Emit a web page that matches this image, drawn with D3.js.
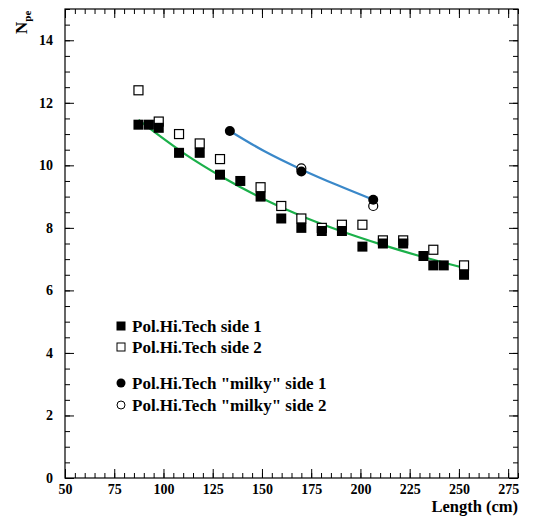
<!DOCTYPE html>
<html>
<head>
<meta charset="utf-8">
<script src="https://cdn.jsdelivr.net/npm/d3@7"></script>
<style>
  body { margin: 0; background: #fff; }
  #chart text { font-family: "Liberation Serif", "Times New Roman", "DejaVu Serif", serif; font-weight: 700; }
</style>
</head>
<body>
<svg id="chart" width="541" height="517"></svg>
<script>
/* data */
const side1_x = [87.3, 92.6, 97.6, 107.9, 118.4, 128.7, 139.0, 149.3, 159.8, 170.0, 180.4, 190.6, 201.0, 211.4, 221.7, 232.0, 237.0, 242.3, 252.6]
const side1_y = [11.3, 11.3, 11.2, 10.4, 10.4, 9.7, 9.5, 9.0, 8.3, 8.0, 7.9, 7.9, 7.4, 7.5, 7.5, 7.1, 6.8, 6.8, 6.5]

const side2_x = [87.3, 97.6, 107.9, 118.4, 128.7, 149.3, 159.8, 170.0, 180.4, 190.6, 201.0, 211.4, 221.7, 237.0, 252.6]
const side2_y = [12.4, 11.4, 11.0, 10.7, 10.2, 9.3, 8.7, 8.3, 8.0, 8.1, 8.1, 7.6, 7.6, 7.3, 6.8]

const milky1_x = [133.7, 170.0, 206.5]
const milky1_y = [11.1, 9.8, 8.9]
const milky2_x = [170.0, 206.5]
const milky2_y = [9.9, 8.7]

/* fit curves, points */
const fit_green_x = [87.3, 110, 130, 150, 170, 190, 210, 230, 252.6]
const fit_green_y = [11.45, 10.4, 9.62, 8.95, 8.38, 7.9, 7.48, 7.1, 6.72]
const fit_blue_x = [133.7, 151.3, 170, 188.5, 206.5]
const fit_blue_y = [11.1, 10.45, 9.87, 9.36, 8.9]

const x_ticks = [50, 75, 100, 125, 150, 175, 200, 225, 250, 275]
const y_ticks = [0, 2, 4, 6, 8, 10, 12, 14]

const legend_labels = ['Pol.Hi.Tech side 1', 'Pol.Hi.Tech side 2', 'Pol.Hi.Tech "milky" side 1', 'Pol.Hi.Tech "milky" side 2']

const svg = d3.select('#chart')
const m_left = 65, m_right = 518, m_top = 9, m_bottom = 478

const x = d3.scaleLinear().domain([50, 280]).range([m_left, m_right])
const y = d3.scaleLinear().domain([0, 15]).range([m_bottom, m_top])

const x_minor = d3.range(50, 281, 5)
const y_minor = d3.range(0, 15.01, 0.5)

/* axes on all four sides, ticks inward */
const draw_axis = (axis, tx, ty) => {
    const g = svg.append('g').attr('transform', `translate(${tx},${ty})`).call(axis)
    g.select('.domain').remove()
    g.selectAll('line').attr('stroke', '#000').attr('stroke-width', 1)
    g.selectAll('text').attr('font-size', 14).attr('fill', '#000')
    return g
}

draw_axis(d3.axisBottom(x).tickValues(x_minor).tickSize(-5).tickFormat(''), 0, m_bottom)
draw_axis(d3.axisBottom(x).tickValues(x_ticks).tickSize(-9).tickPadding(6).tickFormat(d3.format('d')), 0, m_bottom)
draw_axis(d3.axisTop(x).tickValues(x_minor).tickSize(-5).tickFormat(''), 0, m_top)
draw_axis(d3.axisTop(x).tickValues(x_ticks).tickSize(-9).tickFormat(''), 0, m_top)

draw_axis(d3.axisLeft(y).tickValues(y_minor).tickSize(-5).tickFormat(''), m_left, 0)
draw_axis(d3.axisLeft(y).tickValues(y_ticks).tickSize(-9).tickPadding(12).tickFormat(d3.format('d')), m_left, 0)
draw_axis(d3.axisRight(y).tickValues(y_minor).tickSize(-5).tickFormat(''), m_right, 0)
draw_axis(d3.axisRight(y).tickValues(y_ticks).tickSize(-9).tickFormat(''), m_right, 0)

svg.append('rect')
    .attr('x', m_left).attr('y', m_top)
    .attr('width', m_right - m_left).attr('height', m_bottom - m_top)
    .attr('fill', 'none').attr('stroke', '#000').attr('stroke-width', 1.2)

/* axis titles */
svg.append('text')
    .attr('x', m_right).attr('y', 512)
    .attr('text-anchor', 'end').attr('font-size', 16.5)
    .text('Length (cm)')

const ytitle = svg.append('text')
    .attr('transform', 'translate(27,34) rotate(-90)')
    .attr('font-size', 17)
ytitle.append('tspan').text('N')
ytitle.append('tspan').attr('font-size', 11).attr('dy', 4).text('pe')

/* fit lines */
const line = d3.line().x(d => x(d[0])).y(d => y(d[1])).curve(d3.curveCatmullRom)

svg.append('path')
    .datum(d3.zip(fit_green_x, fit_green_y))
    .attr('d', line)
    .attr('fill', 'none').attr('stroke', '#1bb04a').attr('stroke-width', 2.2)

svg.append('path')
    .datum(d3.zip(fit_blue_x, fit_blue_y))
    .attr('d', line)
    .attr('fill', 'none').attr('stroke', '#3a88c9').attr('stroke-width', 2.2)

/* markers */
const sq = 10, rr = 5

svg.selectAll('.side2')
    .data(d3.zip(side2_x, side2_y))
    .join('rect')
    .attr('x', d => x(d[0]) - sq / 2 + 0.5).attr('y', d => y(d[1]) - sq / 2 + 0.5)
    .attr('width', sq - 1).attr('height', sq - 1)
    .attr('fill', '#fff').attr('stroke', '#000').attr('stroke-width', 1.2)

svg.selectAll('.side1')
    .data(d3.zip(side1_x, side1_y))
    .join('rect')
    .attr('x', d => x(d[0]) - sq / 2).attr('y', d => y(d[1]) - sq / 2)
    .attr('width', sq).attr('height', sq)
    .attr('fill', '#000')

svg.selectAll('.milky2')
    .data(d3.zip(milky2_x, milky2_y))
    .join('circle')
    .attr('cx', d => x(d[0])).attr('cy', d => y(d[1])).attr('r', rr - 0.5)
    .attr('fill', '#fff').attr('stroke', '#000').attr('stroke-width', 1.2)

svg.selectAll('.milky1')
    .data(d3.zip(milky1_x, milky1_y))
    .join('circle')
    .attr('cx', d => x(d[0])).attr('cy', d => y(d[1])).attr('r', rr)
    .attr('fill', '#000')

/* legend */
const leg_y = [326, 347, 383, 405]
const leg = svg.append('g')
legend_labels.forEach((t, i) => {
    const cy = leg_y[i], cx = 121
    if (i == 0) leg.append('rect').attr('x', cx - 4.5).attr('y', cy - 4.5).attr('width', 9).attr('height', 9).attr('fill', '#000')
    if (i == 1) leg.append('rect').attr('x', cx - 4).attr('y', cy - 4).attr('width', 8).attr('height', 8).attr('fill', '#fff').attr('stroke', '#000')
    if (i == 2) leg.append('circle').attr('cx', cx).attr('cy', cy).attr('r', 4.5).attr('fill', '#000')
    if (i == 3) leg.append('circle').attr('cx', cx).attr('cy', cy).attr('r', 4).attr('fill', '#fff').attr('stroke', '#000')
    leg.append('text').attr('x', 132).attr('y', cy + 6).attr('font-size', 17).text(t)
})
</script>
</body>
</html>
